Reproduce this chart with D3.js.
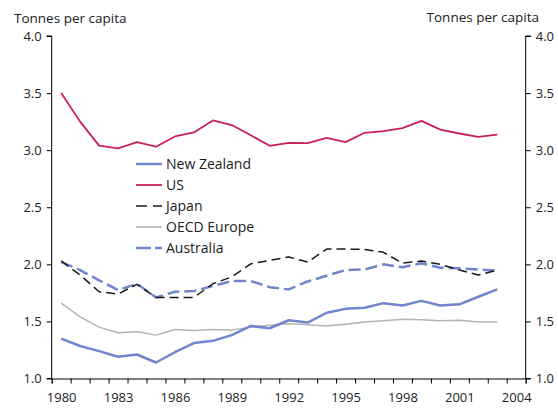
<!DOCTYPE html>
<html><head><meta charset="utf-8">
<script src="https://cdn.jsdelivr.net/npm/d3@7"></script>
<style>
body{margin:0;background:#fff;}
svg{display:block;font-family:"Open Sans",sans-serif;}
</style></head>
<body><svg id="c" width="558" height="408"></svg>
<script>
const years = d3.range(1980, 2004);
const xLabels = [1980,1983,1986,1989,1992,1995,1998,2001,2004];
const yTicks = [1.0,1.5,2.0,2.5,3.0,3.5,4.0];
const nz = [1.35,1.285,1.24,1.19,1.21,1.14,1.23,1.31,1.33,1.38,1.46,1.44,1.51,1.49,1.576,1.61,1.62,1.66,1.64,1.68,1.64,1.65,1.716,1.78];
const us = [3.50,3.25,3.04,3.015,3.07,3.03,3.12,3.155,3.26,3.22,3.13,3.038,3.064,3.061,3.108,3.07,3.152,3.167,3.193,3.257,3.18,3.146,3.117,3.137];
const japan = [2.03,1.906,1.76,1.74,1.825,1.71,1.71,1.71,1.83,1.89,2.005,2.035,2.065,2.02,2.134,2.134,2.13,2.105,2.01,2.03,2.00,1.95,1.906,1.95];
const oecd = [1.66,1.54,1.45,1.40,1.41,1.38,1.43,1.42,1.43,1.425,1.45,1.466,1.48,1.47,1.46,1.475,1.495,1.505,1.52,1.515,1.505,1.51,1.495,1.495];
const australia = [2.02,1.95,1.86,1.775,1.83,1.71,1.76,1.766,1.81,1.854,1.854,1.80,1.78,1.85,1.90,1.95,1.955,2.00,1.974,2.01,1.97,1.965,1.955,1.944];
const seriesNames = ["New Zealand","US","Japan","OECD Europe","Australia"];
const seriesData = [nz, us, japan, oecd, australia];
const yTitle = "Tonnes per capita";

const styles = [
  {color:"#6f85cc", width:2.5, dash:null},
  {color:"#c8205a", width:1.8, dash:null},
  {color:"#1a1a1a", width:1.5, dash:"9,5"},
  {color:"#b4b4b4", width:1.5, dash:null},
  {color:"#6f85cc", width:2.5, dash:"12,5"}
];

const svg = d3.select("#c");
const L = 51.7, R = 525.7, T = 36, B = 378.5;
const x = d3.scaleLinear().domain([1979.5, 2004.5]).range([L, R]);
const y = d3.scaleLinear().domain([1, 4]).range([B, T]);

const fmt = d3.format(".1f");
const gl = svg.append("g").attr("transform",`translate(${L},0)`)
  .call(d3.axisLeft(y).tickValues(yTicks).tickSize(5).tickPadding(5).tickFormat(fmt));
const gr = svg.append("g").attr("transform",`translate(${R},0)`)
  .call(d3.axisRight(y).tickValues(yTicks).tickSize(5).tickPadding(5).tickFormat(fmt));
const gb = svg.append("g").attr("transform",`translate(0,${B})`)
  .call(d3.axisBottom(x).tickValues(d3.range(1979.5, 2005, 1)).tickSize(5).tickFormat(""));
const gbl = svg.append("g").attr("transform",`translate(0,${B})`)
  .call(d3.axisBottom(x).tickValues(xLabels).tickSize(0).tickPadding(14).tickFormat(d3.format("d")));
gbl.select(".domain").remove();
[gl,gr,gb].forEach(g=>{
  g.select(".domain").attr("stroke","#000").attr("stroke-width",1);
  g.selectAll(".tick line").attr("stroke","#000").attr("stroke-width",1);
});
gr.select(".domain").attr("d",`M5,${B}H0V${T}H5`);
gl.select(".domain").attr("d",`M-5,${B}H0V${T}H-5`);
svg.selectAll(".tick text").attr("font-family","Open Sans").attr("font-size",13).attr("fill","#222");

svg.append("text").attr("x",14).attr("y",23).attr("font-size",13.5).attr("fill","#222").text(yTitle);
svg.append("text").attr("x",539).attr("y",22).attr("text-anchor","end").attr("font-size",13.5).attr("fill","#222").text(yTitle);

const line = d3.line().x((d,i)=>x(years[i])).y(d=>y(d));
[3,0,4,2,1].forEach(k=>{
  svg.append("path").datum(seriesData[k]).attr("d",line).attr("fill","none")
    .attr("stroke",styles[k].color).attr("stroke-width",styles[k].width)
    .attr("stroke-dasharray",styles[k].dash).attr("stroke-linejoin","round");
});

seriesNames.forEach((n,i)=>{
  const yy = 164 + i*21;
  svg.append("line").attr("x1",136).attr("x2",162).attr("y1",yy).attr("y2",yy)
    .attr("stroke",styles[i].color).attr("stroke-width",styles[i].width)
    .attr("stroke-dasharray", i===2 ? "11,6" : (i===4 ? "15,4" : null));
  svg.append("text").attr("x",166).attr("y",yy+5).attr("font-size",14).attr("fill","#222").text(n);
});
</script></body></html>
